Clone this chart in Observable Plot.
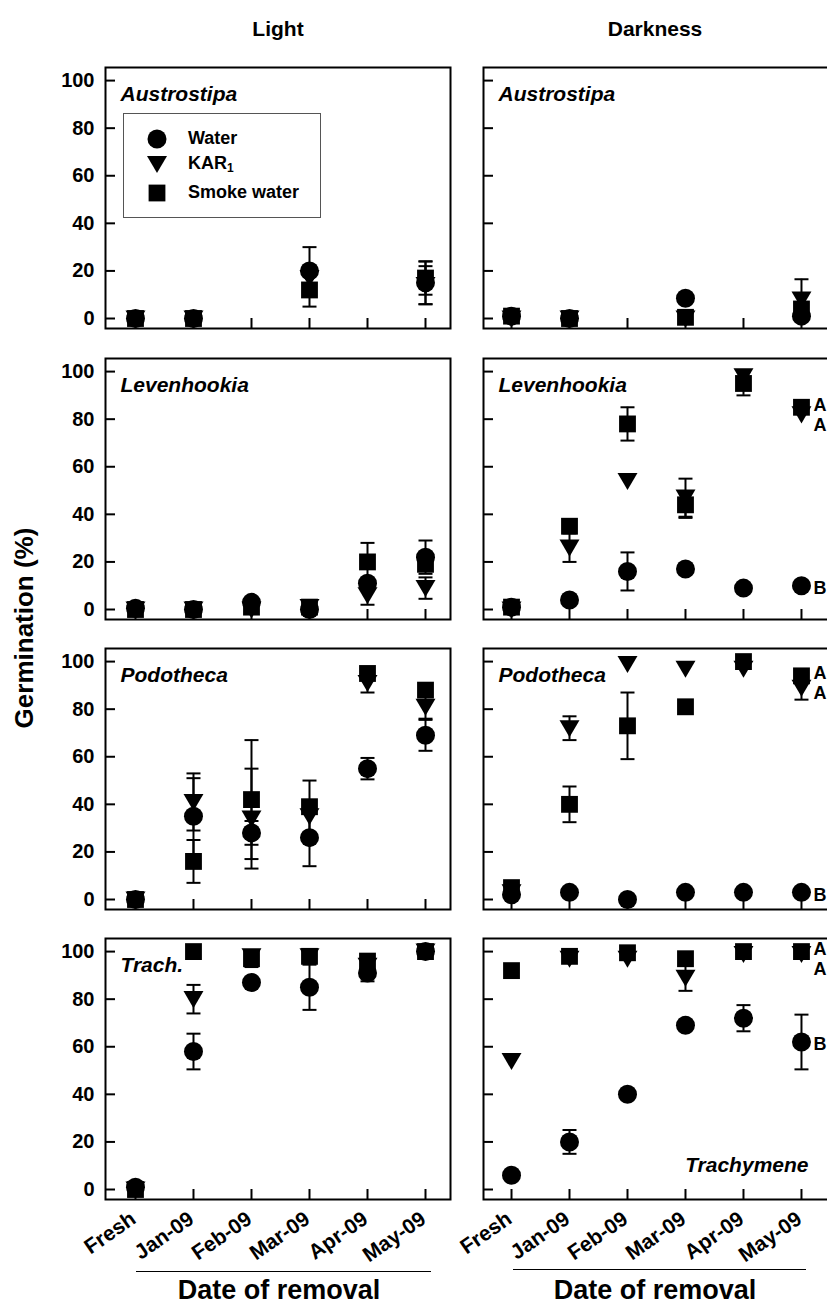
<!DOCTYPE html>
<html><head><meta charset="utf-8">
<script src="https://cdn.jsdelivr.net/npm/d3@7"></script>
<script src="https://cdn.jsdelivr.net/npm/@observablehq/plot@0.6"></script>
<style>
body{margin:0;background:#fff;}
#fig{position:relative;width:827px;height:1305px;overflow:hidden;background:#fff;font-family:'Liberation Sans',Arial,Helvetica,sans-serif;color:#000;}
.t{position:absolute;white-space:nowrap;line-height:1;font-weight:bold;}
.hl{position:absolute;height:0;border-top:1.6px solid #000;}
</style></head>
<body><div id="fig"></div>
<script>
// ---------- data ----------
const dates = ["Fresh", "Jan-09", "Feb-09", "Mar-09", "Apr-09", "May-09"];
const treatments = ["Water", "KAR1", "Smoke water"];
const yTicks = [0, 20, 40, 60, 80, 100];

// rows: [Water, KAR1, Smoke water]; one value per date (null = not sampled)
const austroLightMean = [[0, 0, null, 20, null, 15], [0, 0, null, 17, null, 14], [0, 0, null, 12, null, 17]];
const austroLightSE   = [[0, 0, null, 10, null, 9],  [0, 0, null, 0, null, 8],   [0, 0, null, 7, null, 7]];
const austroDarkMean  = [[1, 0, null, 8.5, null, 1], [0, 0, null, 0, null, 8],   [1, 0, null, 0.5, null, 4]];
const austroDarkSE    = [[0, 0, null, 0, null, 0],   [0, 0, null, 0, null, 8.5], [0, 0, null, 0, null, 0]];

const levenLightMean = [[0.5, 0, 3, 0, 11, 22], [0, 0, 0, 1, 6, 9], [0, 0, 1, 1, 20, 19]];
const levenLightSE   = [[0, 0, 0, 0, 0, 7],     [0, 0, 0, 0, 4, 4.5], [0, 0, 0, 0, 8, 0]];
const levenDarkMean  = [[1, 4, 16, 17, 9, 10],  [0, 26, 54, 47, 98, 82], [1, 35, 78, 44, 95, 85]];
const levenDarkSE    = [[0, 0, 8, 0, 0, 0],     [0, 6, 0, 8, 0, 0],      [0, 0, 7, 5.5, 5, 0]];
const levenDarkLetters = ["B", "A", "A"];

const podoLightMean = [[0, 35, 28, 26, 55, 69], [0, 41, 34, 35, 91, 81], [0, 16, 42, 39, 95, 88]];
const podoLightSE   = [[0, 16, 5, 12, 4.5, 6.5], [0, 12, 21, 0, 4, 5],  [0, 9, 25, 11, 0, 0]];
const podoDarkMean  = [[2, 3, 0, 3, 3, 3],      [3, 72, 99, 97, 97, 89], [5, 40, 73, 81, 100, 94]];
const podoDarkSE    = [[0, 0, 0, 0, 0, 0],      [0, 5, 0, 0, 0, 5],      [0, 7.5, 14, 0, 0, 0]];
const podoDarkLetters = ["B", "A", "A"];

const trachLightMean = [[1, 58, 87, 85, 91, 100], [0, 80, 98, 98, 94, 100], [0, 100, 97, 98, 96, 100]];
const trachLightSE   = [[0, 7.5, 0, 9.5, 3.5, 0], [0, 6, 0, 0, 0, 0],       [0, 0, 3.5, 0, 0, 0]];
const trachDarkMean  = [[6, 20, 40, 69, 72, 62],  [54, 97, 97, 89, 99, 99],  [92, 98, 99.5, 97, 100, 100]];
const trachDarkSE    = [[0, 5, 0, 0, 5.5, 11.5],  [0, 0, 0, 5.5, 0, 0],      [0, 0, 0, 0, 0, 0]];
const trachDarkLetters = ["B", "A", "A"];

// ---------- layout ----------
const FONT = "'Liberation Sans', Arial, Helvetica, sans-serif";
const frameW = 345, frameH = 261;
const colX = [105, 483];
const rowY = [67, 358, 648, 938];
const xDomains = [[-0.517, 5.431], [-0.483, 5.466]];
const yDomain = [-4.2, 105.5];

const triDown = {draw(ctx, size) { const r = Math.sqrt(size / Math.PI); ctx.moveTo(-1.05 * r, -0.85 * r); ctx.lineTo(1.05 * r, -0.85 * r); ctx.lineTo(0, 0.95 * r); ctx.closePath(); }};
const capSym = {draw(ctx, size) { const r = Math.sqrt(size / Math.PI); ctx.moveTo(-r, 0); ctx.lineTo(r, 0); }};

const panels = [
  {name: "Austrostipa", mean: austroLightMean, se: austroLightSE, col: 0, row: 0},
  {name: "Austrostipa", mean: austroDarkMean, se: austroDarkSE, col: 1, row: 0},
  {name: "Levenhookia", mean: levenLightMean, se: levenLightSE, col: 0, row: 1},
  {name: "Levenhookia", mean: levenDarkMean, se: levenDarkSE, col: 1, row: 1, letters: levenDarkLetters},
  {name: "Podotheca", mean: podoLightMean, se: podoLightSE, col: 0, row: 2},
  {name: "Podotheca", mean: podoDarkMean, se: podoDarkSE, col: 1, row: 2, letters: podoDarkLetters},
  {name: "Trach.", mean: trachLightMean, se: trachLightSE, col: 0, row: 3},
  {name: "Trachymene", mean: trachDarkMean, se: trachDarkSE, col: 1, row: 3, letters: trachDarkLetters, nameBottom: true}
];

const fig = document.getElementById("fig");

function rowsFrom(mean, se) {
  const out = [];
  mean.forEach((series, t) => series.forEach((v, i) => {
    if (v != null) out.push({t, treatment: treatments[t], x: i, y: v, se: se[t][i] || 0});
  }));
  return out;
}

for (const p of panels) {
  const rows = rowsFrom(p.mean, p.se);
  const bars = rows.filter(d => d.se > 0);
  const caps = bars.flatMap(d => [{x: d.x, y: d.y - d.se}, {x: d.x, y: d.y + d.se}]);
  const left = p.col === 0, bottom = p.row === 3;
  const mL = left ? 105 : 10, mR = 2, mT = 2, mB = bottom ? 80 : 2;
  const idx = d3.range(dates.length);
  const marks = [
    Plot.axisY(yTicks, {tickSize: -10, fill: "none", strokeWidth: 2, label: null}),
    Plot.axisX(idx, {tickSize: -10, fill: "none", strokeWidth: 2, label: null})
  ];
  if (left) marks.push(Plot.axisY(yTicks, {tickSize: 0, tickPadding: 11, label: null, fontSize: 20, fontWeight: "bold"}));
  if (bottom) marks.push(Plot.axisX(idx, {tickSize: 0, tickPadding: 17, tickRotate: -35, dx: -2, tickFormat: i => dates[i], label: null, fontSize: 21, fontWeight: "bold"}));
  marks.push(
    Plot.ruleX(bars, {x: "x", y1: d => d.y - d.se, y2: d => d.y + d.se, stroke: "black", strokeWidth: 2}),
    Plot.dot(caps, {x: "x", y: "y", symbol: capSym, r: 7, fill: "none", stroke: "black", strokeWidth: 2}),
    Plot.dot(rows.filter(d => d.t === 0), {x: "x", y: "y", symbol: "circle", r: 9.5, fill: "black", stroke: "none"}),
    Plot.dot(rows.filter(d => d.t === 1), {x: "x", y: "y", symbol: triDown, r: 9.5, fill: "black", stroke: "none"}),
    Plot.dot(rows.filter(d => d.t === 2), {x: "x", y: "y", symbol: "square", r: 9.5, fill: "black", stroke: "none"}),
    Plot.frame({stroke: "black", strokeWidth: 2})
  );
  if (p.nameBottom) {
    marks.push(Plot.text([p.name], {text: d => d, frameAnchor: "bottom-right", textAnchor: "end", dx: -20, dy: -28, fontSize: 21, fontWeight: "bold", fontStyle: "italic"}));
  } else {
    marks.push(Plot.text([p.name], {text: d => d, frameAnchor: "top-left", textAnchor: "start", dx: 15, dy: 19, fontSize: 21, fontWeight: "bold", fontStyle: "italic"}));
  }
  if (p.letters) {
    const i = dates.length - 1;
    const w = p.mean[0][i], k = p.mean[1][i], s = p.mean[2][i];
    const letterRows = [
      {x: i, y: s + 1, label: p.letters[2]},
      {x: i, y: Math.min(k, s - 7.5), label: p.letters[1]},
      {x: i, y: w - 1, label: p.letters[0]}
    ];
    marks.push(Plot.text(letterRows, {x: "x", y: "y", text: "label", dx: 12, textAnchor: "start", fontSize: 18, fontWeight: "bold"}));
  }
  const svg = Plot.plot({
    width: mL + frameW + mR, height: mT + frameH + mB,
    marginLeft: mL, marginRight: mR, marginTop: mT, marginBottom: mB,
    x: {domain: xDomains[p.col]}, y: {domain: yDomain},
    style: {fontFamily: FONT, color: "black", background: "none", overflow: "visible"},
    marks
  });
  svg.style.position = "absolute";
  svg.style.left = (colX[p.col] - mL) + "px";
  svg.style.top = (rowY[p.row] - mT) + "px";
  fig.appendChild(svg);
}

// ---------- titles & annotations ----------
function addText(txt, css) {
  const d = document.createElement("div");
  d.className = "t";
  d.textContent = txt;
  Object.assign(d.style, css);
  fig.appendChild(d);
  return d;
}
addText("Light", {left: "278px", top: "18px", fontSize: "21px", transform: "translateX(-50%)"});
addText("Darkness", {left: "655px", top: "18px", fontSize: "21px", transform: "translateX(-50%)"});
addText("Germination (%)", {left: "24px", top: "628px", fontSize: "26px", transform: "translate(-50%,-50%) rotate(-90deg)"});
addText("Date of removal", {left: "279px", top: "1277px", fontSize: "27px", transform: "translateX(-50%)"});
addText("Date of removal", {left: "655px", top: "1277px", fontSize: "27px", transform: "translateX(-50%)"});
for (const [x1, x2, y] of [[136, 431, 1271], [513, 806, 1269]]) {
  const l = document.createElement("div");
  l.className = "hl";
  Object.assign(l.style, {left: x1 + "px", width: (x2 - x1) + "px", top: y + "px"});
  fig.appendChild(l);
}

// ---------- legend ----------
const leg = document.createElement("div");
Object.assign(leg.style, {position: "absolute", left: "123px", top: "113px", width: "196px", height: "103px", border: "1.5px solid #555", background: "#fff"});
fig.appendChild(leg);
const legendSymbols = ["circle", "tri", "square"];
const legendY = [25, 50, 79];
treatments.forEach((t, i) => {
  const s = d3.create("svg").attr("width", 24).attr("height", 24)
    .style("position", "absolute").style("left", "21px").style("top", (legendY[i] - 12) + "px");
  const g = s.append("g").attr("transform", "translate(12,12)");
  if (legendSymbols[i] === "circle") g.append("circle").attr("r", 9.5);
  else if (legendSymbols[i] === "square") g.append("rect").attr("x", -8.4).attr("y", -8.4).attr("width", 16.8).attr("height", 16.8);
  else g.append("path").attr("d", "M-10,-8 L10,-8 L0,9Z");
  leg.appendChild(s.node());
  const lab = document.createElement("div");
  lab.className = "t";
  lab.innerHTML = t === "KAR1" ? "KAR<sub style='font-size:12px;vertical-align:-3px'>1</sub>" : t;
  Object.assign(lab.style, {left: "64px", top: (legendY[i] - 10) + "px", fontSize: "18px"});
  leg.appendChild(lab);
});
</script></body></html>
